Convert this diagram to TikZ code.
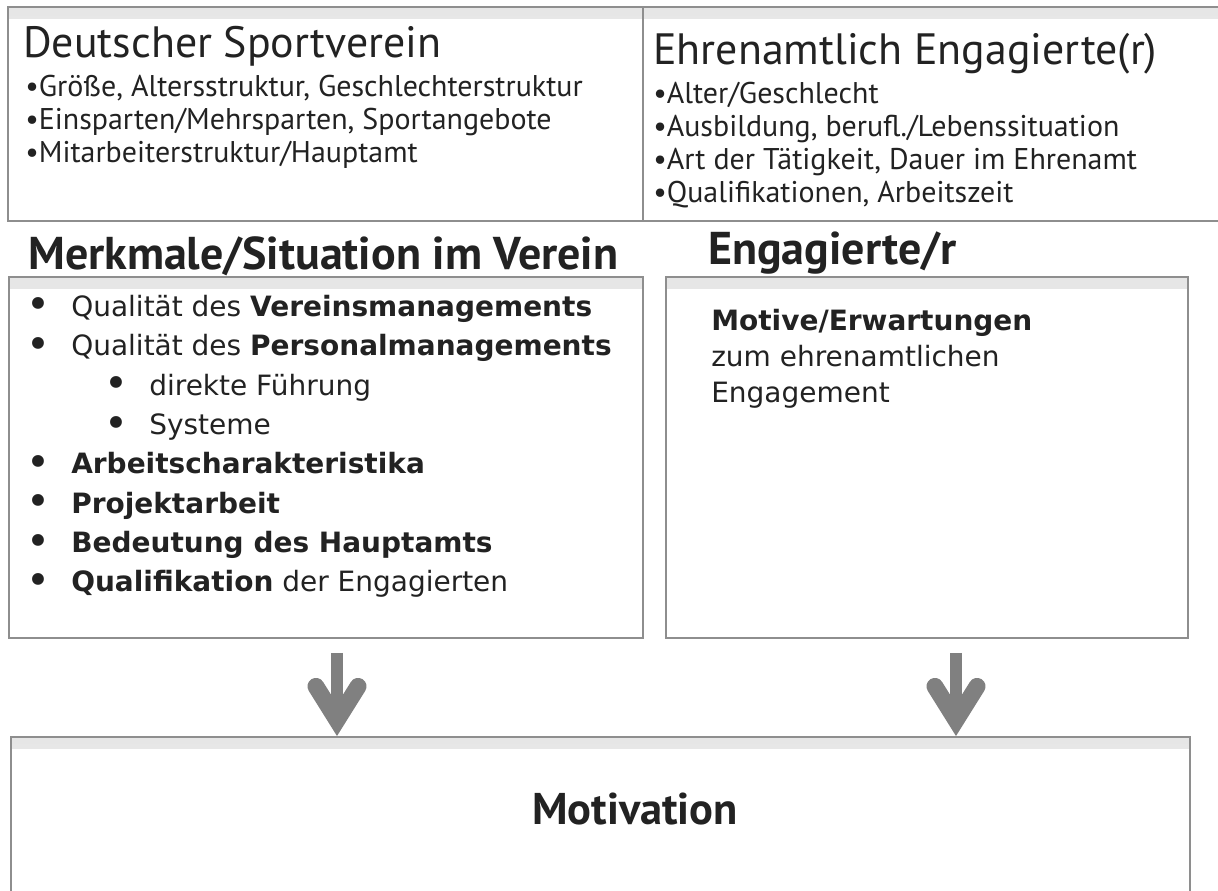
\documentclass[tikz,border=0pt]{standalone}
\usepackage{fontspec}
\setmainfont{PT Sans}
\newfontfamily\listfont{DejaVu Sans}
\usepackage{tikz}
\usetikzlibrary{arrows.meta, fit}

\definecolor{framegray}{HTML}{8E8E8E}
\definecolor{arrowgray}{HTML}{808080}
\definecolor{inkdark}{HTML}{222222}

\tikzstyle{frame} = [rectangle, draw=framegray, line width=1.4pt, inner sep=0pt,
  path picture={\shade[top color=black!10, bottom color=white] (path picture bounding box.north west) rectangle ([yshift=-8pt]path picture bounding box.north east);}]
\tikzstyle{boxtitle} = [anchor=base west, inner sep=0pt, text=inkdark, font=\fontsize{31.2}{36}\selectfont]
\tikzstyle{facts} = [anchor=base west, inner sep=0pt, text=inkdark, align=left, font=\fontsize{21.3}{23.6}\selectfont]
\tikzstyle{heading} = [anchor=base west, inner sep=0pt, text=inkdark, font=\bfseries\fontsize{32.7}{38}\selectfont]
\tikzstyle{items} = [anchor=base west, inner sep=0pt, text=inkdark, align=left, font=\listfont\fontsize{19.9}{28}\selectfont]
\tikzstyle{downarrow} = [draw=arrowgray, line width=8.5pt, -{Straight Barb[length=24pt, width=30pt, line width=12pt, line cap=round, line join=miter]}]

% last line of a multi-line node sits on its base anchor
\newcommand{\bul}{\makebox[32pt][l]{\raisebox{-1.8pt}{\scalebox{1.45}{\textbullet}}}}
\newcommand{\subbul}{\hspace*{55.5pt}\bul}

\begin{document}
\begin{tikzpicture}[x=0.025cm, y=-0.025cm]
% Canvas
\fill[white] (0,0) rectangle (1218,891);
\useasboundingbox (0,0) rectangle (1218,891);

% Frames
\node (dsv) [frame, fit={(8,7) (643,221)}] {};
\node (eng) [frame, fit={(643,7) (1224,221)}] {};
\node (sit) [frame, fit={(9,277) (643,638)}] {};
\node (mot) [frame, fit={(666,277) (1188,638)}] {};
\node (motiv) [frame, fit={(11,737) (1190,896)}] {};

% Texts
\node (dsvtitle) [boxtitle] at (23,58) {Deutscher Sportverein};
\node (dsvfacts) [facts] at (25,163) {\textbullet Größe, Altersstruktur, Geschlechterstruktur\\
  \textbullet Einsparten/Mehrsparten, Sportangebote\\
  \textbullet Mitarbeiterstruktur/Hauptamt};
\node (engtitle) [boxtitle] at (653,65) {Ehrenamtlich Engagierte(r)};
\node (engfacts) [facts] at (653,203) {\textbullet Alter/Geschlecht\\
  \textbullet Ausbildung, berufl./Lebenssituation\\
  \textbullet Art der Tätigkeit, Dauer im Ehrenamt\\
  \textbullet Qualifikationen, Arbeitszeit};

\node (sithead) [heading] at (28,270) {Merkmale/Situation im Verein};
\node (mothead) [heading] at (708,265) {Engagierte/r};
\node (sititems) [items] at (26,592) {\bul Qualität des \textbf{Vereinsmanagements}\\
  \bul Qualität des \textbf{Personalmanagements}\\
  \subbul direkte Führung\\
  \subbul Systeme\\
  \bul \textbf{Arbeitscharakteristika}\\
  \bul \textbf{Projektarbeit}\\
  \bul \textbf{Bedeutung des Hauptamts}\\
  \bul \textbf{Qualifikation} der Engagierten};
\node (motitems) [items, font=\listfont\fontsize{19.9}{25.6}\selectfont] at (711,403) {\textbf{Motive/Erwartungen}\\
  zum ehrenamtlichen\\
  Engagement};

\node (motivlabel) [heading, font=\bfseries\fontsize{31.6}{38}\selectfont] at (532,824) {Motivation};

% Arrows
\coordinate (leftstart) at (337,653);
\coordinate (rightstart) at (956,653);
\draw [downarrow] (leftstart) -- (leftstart |- motiv.north);
\draw [downarrow] (rightstart) -- (rightstart |- motiv.north);
\end{tikzpicture}
\end{document}
